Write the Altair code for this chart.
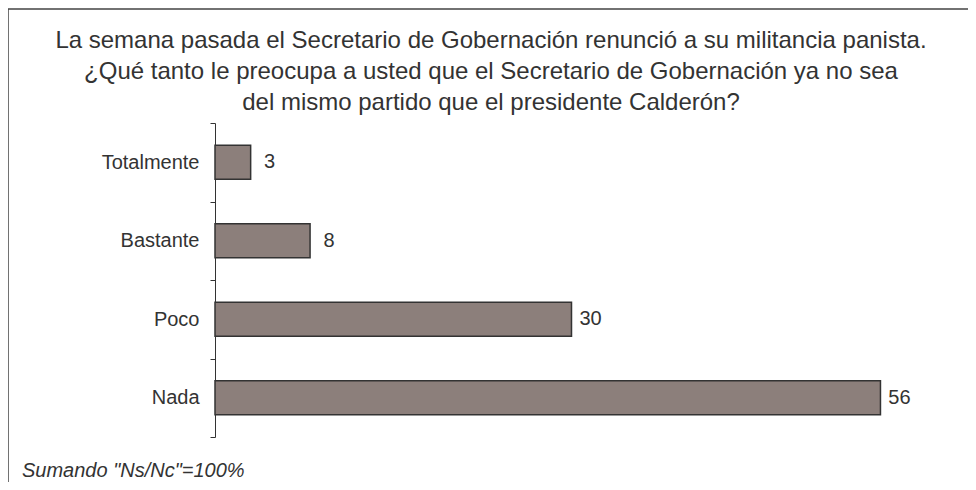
import altair as alt
import pandas as pd

categories = ["Totalmente", "Bastante", "Poco", "Nada"]
values = [3, 8, 30, 56]
title_lines = [
    "La semana pasada el Secretario de Gobernación renunció a su militancia panista.",
    "¿Qué tanto le preocupa a usted que el Secretario de Gobernación ya no sea",
    "del mismo partido que el presidente Calderón?",
]
footnote = 'Sumando "Ns/Nc"=100%'

df = pd.DataFrame({"cat": categories, "val": values})

W, H = 713, 314
FONT = "Liberation Sans"
TXT = "#333333"

y_enc = alt.Y(
    "cat:N",
    sort=categories,
    scale=alt.Scale(paddingInner=0, paddingOuter=0),
    axis=alt.Axis(
        title=None,
        tickBand="extent",
        domainColor="#333333",
        tickColor="#333333",
        tickSize=5,
        labelPadding=11,
        labelFont=FONT,
        labelFontSize=20,
        labelColor=TXT,
    ),
)
x_enc = alt.X("val:Q", scale=alt.Scale(domain=[0, 60]), axis=None)

bars = alt.Chart(df).mark_bar(
    size=34, fill="#8c7f7b", stroke="#333333", strokeWidth=1.5
).encode(x=x_enc, y=y_enc)

labels = alt.Chart(df).mark_text(
    align="center", dx=19, font=FONT, fontSize=20, color=TXT
).encode(x=x_enc, y=y_enc, text="val:Q")

one = pd.DataFrame({"t": [0]})

title = alt.Chart(one).mark_text(
    text=title_lines, align="center", baseline="top", font=FONT, fontSize=24,
    lineHeight=31, color=TXT
).encode(x=alt.value(276), y=alt.value(-94))

note = alt.Chart(pd.DataFrame({"t": [footnote]})).mark_text(
    align="left", baseline="alphabetic", font=FONT, fontSize=20,
    fontStyle="italic", color=TXT
).encode(x=alt.value(-193), y=alt.value(354), text="t:N")

border = alt.Chart(one).mark_rect(
    fill=None, stroke="#444444", strokeWidth=1.5
).encode(x=alt.value(-207), x2=alt.value(900), y=alt.value(-114), y2=alt.value(500))

chart = alt.layer(border, title, bars, labels, note).properties(
    width=W,
    height=H,
    autosize=alt.AutoSizeParams(type="none"),
    padding={"left": 207, "top": 115, "right": 40, "bottom": 45},
).configure_view(stroke=None)

chart.save("out.html", embed_options={"renderer": "svg", "actions": False})
